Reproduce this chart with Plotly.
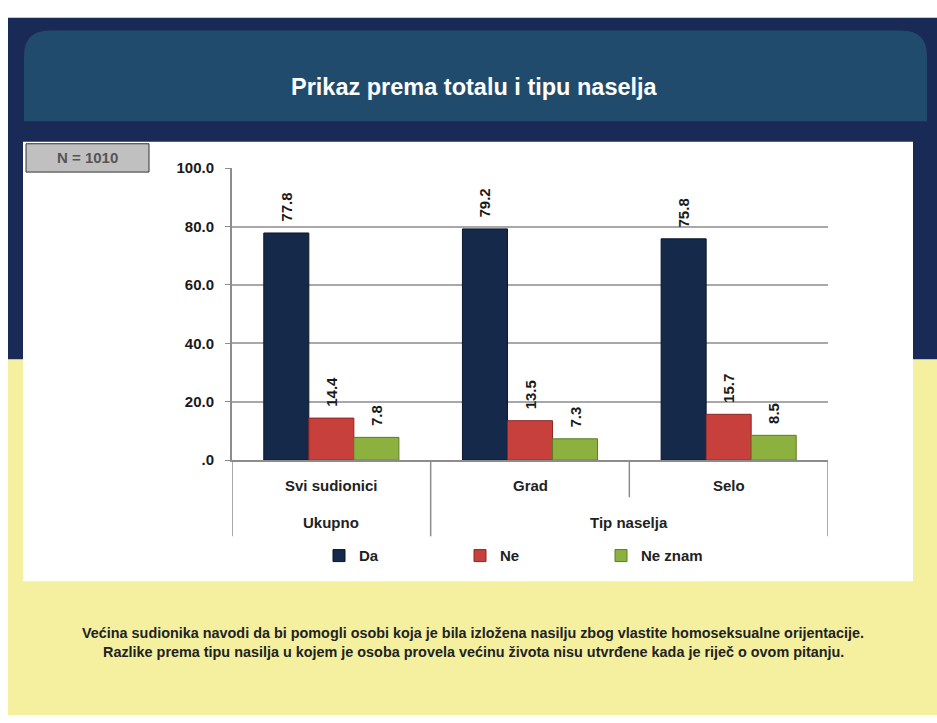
import plotly.graph_objects as go

# ---------------- data ----------------
categories = ["Svi sudionici", "Grad", "Selo"]
group_labels = ["Ukupno", "Tip naselja"]
group_members = [[0], [1, 2]]
series_names = ["Da", "Ne", "Ne znam"]
da_values = [77.8, 79.2, 75.8]
ne_values = [14.4, 13.5, 15.7]
ne_znam_values = [7.8, 7.3, 8.5]
y_tick_values = [0, 20, 40, 60, 80, 100]
y_tick_labels = [".0", "20.0", "40.0", "60.0", "80.0", "100.0"]
title_text = "Prikaz prema totalu i tipu naselja"
sample_note = "N = 1010"
footer_lines = [
    "Većina sudionika navodi da bi pomogli osobi koja je bila izložena nasilju zbog vlastite homoseksualne orijentacije.",
    "Razlike prema tipu nasilja u kojem je osoba provela većinu života nisu utvrđene kada je riječ o ovom pitanju.",
]

# ---------------- styling ----------------
W, H = 937, 723
FONT = "Arial, 'Liberation Sans', sans-serif"
NAVY = "#1a2a56"
HEADER = "#214b6d"
YELLOW = "#f4f0a0"
bar_fill = ["#15294a", "#c8403c", "#8db13f"]
bar_line = ["#0b1628", "#8a2723", "#5d7a24"]
FS = 15


def px(x):
    return x / W


def py(y):
    return 1 - y / H


fig = go.Figure()
for name, vals, fc, lc in zip(series_names, [da_values, ne_values, ne_znam_values], bar_fill, bar_line):
    fig.add_trace(go.Bar(
        name=name,
        x=list(range(len(categories))),
        y=vals,
        marker=dict(color=fc, line=dict(color=lc, width=1)),
        text=vals,
        texttemplate="\u00a0\u00a0<b>%{y:.1f}</b>",
        textposition="outside",
        textangle=-90,
        textfont=dict(family=FONT, size=FS, color="#1a1a1a"),
        cliponaxis=False,
    ))

shapes = []
shapes.append(dict(type="rect", xref="paper", yref="paper", layer="below",
                   x0=px(8), x1=px(937), y0=py(359), y1=py(9),
                   fillcolor=NAVY, line=dict(width=0)))
shapes.append(dict(type="rect", xref="paper", yref="paper", layer="below",
                   x0=px(8), x1=px(937), y0=py(723), y1=py(359),
                   fillcolor=YELLOW, line=dict(width=0)))
hx0, hx1, hy0, hy1, r = px(24), px(927), py(115), py(22), 26
rx, ry = r / W, r / H
path = (f"M {hx0},{hy0} L {hx0},{hy1 - ry} Q {hx0},{hy1} {hx0 + rx},{hy1} "
        f"L {hx1 - rx},{hy1} Q {hx1},{hy1} {hx1},{hy1 - ry} L {hx1},{hy0} Z")
shapes.append(dict(type="path", xref="paper", yref="paper", layer="below", path=path,
                   fillcolor=HEADER, line=dict(width=0)))
shapes.append(dict(type="rect", xref="paper", yref="paper", layer="below",
                   x0=px(23), x1=px(913), y0=py(586), y1=py(136),
                   fillcolor="white", line=dict(width=0)))
shapes.append(dict(type="rect", xref="paper", yref="paper", layer="below",
                   x0=px(26), x1=px(149), y0=py(167), y1=py(138),
                   fillcolor="#c0c0c0", line=dict(color="#333333", width=1)))

n = len(categories)
boundaries = [-0.5 + i for i in range(n + 1)]
group_edges = set()
acc = -0.5
group_edges.add(acc)
for members in group_members:
    acc += len(members)
    group_edges.add(acc)
for b in boundaries:
    bottom = 540 if b in group_edges else 500
    shapes.append(dict(type="line", xref="x", yref="paper", layer="above",
                       x0=b, x1=b, y0=py(462), y1=py(bottom),
                       line=dict(color="#8c8c8c", width=1.5)))

annotations = []
annotations.append(dict(text=f"<b>{title_text}</b>", xref="paper", yref="paper",
                        x=px(475), y=py(80), xanchor="center", yanchor="middle",
                        showarrow=False, font=dict(family=FONT, size=23.5, color="white")))
annotations.append(dict(text=f"<b>{sample_note}</b>", xref="paper", yref="paper",
                        x=px(87.5), y=py(152.5), xanchor="center", yanchor="middle",
                        showarrow=False, font=dict(family=FONT, size=15, color="#555555")))
for i, c in enumerate(categories):
    annotations.append(dict(text=f"<b>{c}</b>", xref="x", yref="paper",
                            x=i, y=py(488), xanchor="center", yanchor="middle",
                            showarrow=False, font=dict(family=FONT, size=FS, color="#222222")))
for g, members in zip(group_labels, group_members):
    annotations.append(dict(text=f"<b>{g}</b>", xref="x", yref="paper",
                            x=sum(members) / len(members), y=py(526),
                            xanchor="center", yanchor="middle",
                            showarrow=False, font=dict(family=FONT, size=FS, color="#222222")))
for k, line in enumerate(footer_lines):
    annotations.append(dict(text=f"<b>{line}</b>", xref="paper", yref="paper",
                            x=px(473), y=py(639 + 19 * k), xanchor="center", yanchor="middle",
                            showarrow=False, font=dict(family=FONT, size=14.4, color="#222222")))

fig.update_layout(
    width=W, height=H,
    margin=dict(l=0, r=0, t=0, b=0),
    paper_bgcolor="white",
    plot_bgcolor="rgba(0,0,0,0)",
    barmode="group",
    bargap=0.32,
    bargroupgap=0,
    showlegend=True,
    legend=dict(orientation="h", x=px(319), y=py(560), xanchor="left", yanchor="middle",
                font=dict(family=FONT, size=FS, color="#222222", weight="bold"),
                bgcolor="rgba(0,0,0,0)", entrywidth=96, itemwidth=30),
    xaxis=dict(domain=[px(232), px(828)], range=[-0.5, n - 0.5],
               showticklabels=False, showgrid=False, zeroline=False,
               showline=True, linecolor="#8c8c8c", linewidth=2, fixedrange=True),
    yaxis=dict(domain=[py(462), py(163)], range=[0, 100],
               tickvals=y_tick_values, ticktext=y_tick_labels,
               tickfont=dict(family=FONT, size=FS, color="#1a1a1a", weight="bold"),
               ticks="outside", ticklen=5, tickcolor="#8c8c8c", ticklabelstandoff=8,
               showgrid=True, gridcolor="#a8a8a8", gridwidth=1.5,
               zeroline=False, showline=True, linecolor="#8c8c8c", linewidth=2),
    shapes=shapes,
    annotations=annotations,
)

fig.write_html("out.html", post_script="document.body.style.margin='0';",
               config={"displayModeBar": False})
